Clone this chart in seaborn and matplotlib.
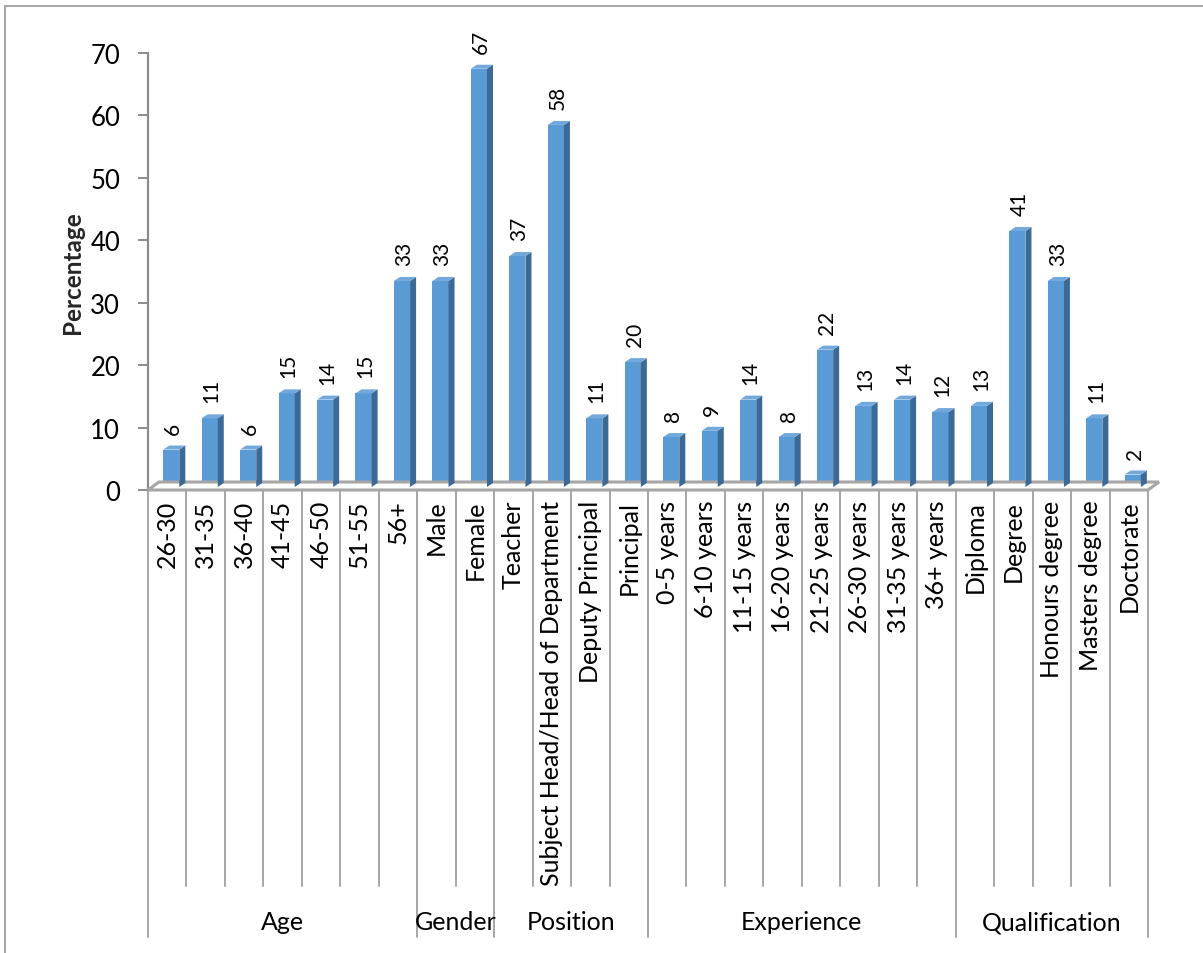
import matplotlib
matplotlib.use("Agg")
import matplotlib.pyplot as plt
import seaborn as sns
from matplotlib.patches import Polygon
from matplotlib.lines import Line2D
from matplotlib.transforms import ScaledTranslation, blended_transform_factory

# ---- data -------------------------------------------------------------
categories = ["26-30", "31-35", "36-40", "41-45", "46-50", "51-55", "56+",
              "Male", "Female",
              "Teacher", "Subject Head/Head of Department", "Deputy Principal", "Principal",
              "0-5 years", "6-10 years", "11-15 years", "16-20 years", "21-25 years",
              "26-30 years", "31-35 years", "36+ years",
              "Diploma", "Degree", "Honours degree", "Masters degree", "Doctorate"]
values = [6, 11, 6, 15, 14, 15, 33,
          33, 67,
          37, 58, 11, 20,
          8, 9, 14, 8, 22, 13, 14, 12,
          13, 41, 33, 11, 2]
groups = ["Age", "Gender", "Position", "Experience", "Qualification"]
group_sizes = [7, 2, 4, 8, 5]
yticks = [0, 10, 20, 30, 40, 50, 60, 70]

# ---- style ------------------------------------------------------------
sns.set_theme(style="white")
plt.rcParams["font.family"] = ["Lato", "DejaVu Sans"]

FRONT = "#5B9BD5"
SIDE = "#3C6A96"
TOP = "#72A8DB"
GRID_GREY = "#A6A6A6"
AXIS_GREY = "#8C8C8C"

W, H, DPI = 1203, 954, 100
fig = plt.figure(figsize=(W / DPI, H / DPI), dpi=DPI)
fig.patch.set_facecolor("white")

# axes box in pixels: x 148..1148, y 54 (top) .. 491 (zero line)
L, R, T, B = 148, 1148, 54, 491
ax = fig.add_axes([L / W, 1 - B / H, (R - L) / W, (B - T) / H])

sns.barplot(x=categories, y=values, color=FRONT, saturation=1, width=0.42,
            order=categories, ax=ax, zorder=3)
ax.set_xlim(-0.5, len(categories) - 0.5)
ax.set_ylim(0, 70)
ax.set_yticks(yticks)

# perspective: bars sit a little behind the front edge of the floor
bar_shift = ScaledTranslation(4 / DPI, 3 / DPI, fig.dpi_scale_trans)
bar_trans = ax.transData + bar_shift
depth_dx, depth_dy = 6, 4        # bar depth in pixels
floor_dx, floor_dy = 11, 8       # floor depth in pixels
to_inch = fig.dpi_scale_trans


def pix_poly(points, **kw):
    pts = [(px / DPI, py / DPI) for px, py in points]
    p = Polygon(pts, closed=True, transform=to_inch, clip_on=False, **kw)
    fig.add_artist(p)
    return p


# floor plane
fx0, fy0 = ax.transData.transform((-0.5, 0))
fx1, _ = ax.transData.transform((len(categories) - 0.5, 0))
pix_poly([(fx0, fy0), (fx1, fy0), (fx1 + floor_dx, fy0 + floor_dy),
          (fx0 + floor_dx, fy0 + floor_dy)],
         facecolor="white", edgecolor=GRID_GREY, linewidth=2.2, zorder=1)

# bars: front faces from seaborn, then side and top faces
for patch in list(ax.patches):
    patch.set_transform(bar_trans)
    patch.set_edgecolor("none")
    patch.set_clip_on(False)
    x0, y0 = patch.get_x(), patch.get_y()
    x1, y1 = x0 + patch.get_width(), y0 + patch.get_height()
    (a0, b0), (a1, b1) = bar_trans.transform([(x0, y0), (x1, y1)])
    pix_poly([(a1, b0), (a1, b1), (a1 + depth_dx, b1 + depth_dy), (a1 + depth_dx, b0 + depth_dy)],
             facecolor=SIDE, edgecolor="none", zorder=4)
    pix_poly([(a0, b1), (a1, b1), (a1 + depth_dx, b1 + depth_dy), (a0 + depth_dx, b1 + depth_dy)],
             facecolor=TOP, edgecolor="none", zorder=4)

# value labels above the bars
label_shift = ScaledTranslation(6 / DPI, 19 / DPI, fig.dpi_scale_trans)
for i, v in enumerate(values):
    ax.text(i, v, f"{v}", rotation=90, ha="center", va="bottom", fontsize=15,
            color="black", transform=ax.transData + label_shift, clip_on=False, zorder=6)

# axes styling
for side in ["top", "right", "bottom"]:
    ax.spines[side].set_visible(False)
ax.spines["left"].set_color(AXIS_GREY)
ax.spines["left"].set_linewidth(1.6)
ax.tick_params(axis="y", length=7, width=1.4, color=AXIS_GREY, labelsize=18.5,
               pad=13, left=True, labelcolor="black")
ax.tick_params(axis="x", length=0, pad=7, labelsize=18, labelrotation=90, labelcolor="black")
for lab in ax.get_xticklabels():
    lab.set_verticalalignment("top")
    lab.set_horizontalalignment("center")
ax.set_xlabel("")
ax.set_ylabel("Percentage", fontsize=17.5, fontweight="bold")
ax.yaxis.label.set_verticalalignment("center")
ax.yaxis.label.set_horizontalalignment("center")
ax.yaxis.set_label_coords((73 - L) / (R - L), 0.5)
ax.grid(False)

# category separator lines and group labels under the axis
sep = blended_transform_factory(ax.transData, ax.transAxes)
axes_h = B - T
inner_bottom = -(887 - B) / axes_h
outer_bottom = -(938 - B) / axes_h
label_y = -(923 - B) / axes_h
boundaries = [0]
for n in group_sizes:
    boundaries.append(boundaries[-1] + n)
for k in range(len(categories) + 1):
    yb = outer_bottom if k in boundaries else inner_bottom
    ax.add_line(Line2D([k - 0.5, k - 0.5], [0, yb], transform=sep, color=GRID_GREY,
                       linewidth=1.4, clip_on=False, zorder=1))
for g, s, e in zip(groups, boundaries[:-1], boundaries[1:]):
    ax.text((s + e - 1) / 2, label_y, g, transform=sep, ha="center", va="center",
            fontsize=18, color="black", clip_on=False)

# chart frame (top and left edges)
fig.add_artist(Line2D([5 / W, 1], [1 - 7 / H, 1 - 7 / H], transform=fig.transFigure,
                      color="#A6A6A6", linewidth=1.4))
fig.add_artist(Line2D([5 / W, 5 / W], [0, 1 - 7 / H], transform=fig.transFigure,
                      color="#A6A6A6", linewidth=1.4))

fig.savefig("out.png", dpi=DPI, facecolor="white")
